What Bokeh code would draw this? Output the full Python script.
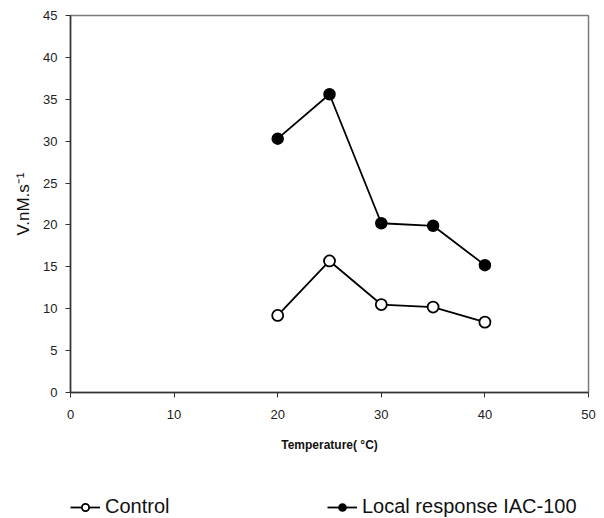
from bokeh.plotting import figure
from bokeh.layouts import column
from bokeh.models import Legend, LegendItem, Range1d, FixedTicker
from bokeh.embed import file_html
from bokeh.resources import INLINE

temperature = [20, 25, 30, 35, 40]
control = [9.2, 15.7, 10.5, 10.2, 8.4]
local_iac100 = [30.3, 35.6, 20.2, 19.9, 15.2]
x_ticks = [0, 10, 20, 30, 40, 50]
y_ticks = [0, 5, 10, 15, 20, 25, 30, 35, 40, 45]
series_labels = ["Control", "Local response IAC-100"]

FONT = "Liberation Sans"

p = figure(width=596, height=458, output_backend="svg", toolbar_location=None,
           x_range=Range1d(0, 50), y_range=Range1d(0, 45),
           min_border_left=70, min_border_right=8, min_border_top=15, min_border_bottom=66)
p.grid.visible = False
p.outline_line_color = "#7a7a7a"
p.outline_line_width = 1.5

for ax in (p.xaxis[0], p.yaxis[0]):
    ax.axis_line_color = "#333333"
    ax.axis_line_width = 1.5
    ax.major_tick_line_color = "#333333"
    ax.major_tick_line_width = 1
    ax.major_tick_out = 5
    ax.major_tick_in = 0
    ax.minor_tick_line_color = None
    ax.major_label_text_font = FONT
    ax.major_label_text_font_size = "13px"
    ax.major_label_text_color = "#222222"

p.xaxis.ticker = FixedTicker(ticks=x_ticks)
p.yaxis.ticker = FixedTicker(ticks=y_ticks)
p.xaxis.major_label_standoff = 12
p.yaxis.major_label_standoff = 8

p.xaxis.axis_label = "Temperature( \u00b0C)"
p.xaxis.axis_label_text_font = FONT
p.xaxis.axis_label_text_font_style = "bold"
p.xaxis.axis_label_text_font_size = "12px"
p.xaxis.axis_label_text_color = "#111111"
p.xaxis.axis_label_standoff = 16

p.yaxis.axis_label = "V.nM.s\u207b\u00b9"
p.yaxis.axis_label_text_font = FONT
p.yaxis.axis_label_text_font_style = "normal"
p.yaxis.axis_label_text_font_size = "17px"
p.yaxis.axis_label_text_color = "#111111"
p.yaxis.axis_label_standoff = 7

LINE_W = 1.8
p.line(temperature, control, line_color="black", line_width=LINE_W)
p.scatter(temperature, control, marker="circle", size=11,
          fill_color="white", line_color="black", line_width=LINE_W)
p.line(temperature, local_iac100, line_color="black", line_width=LINE_W)
p.scatter(temperature, local_iac100, marker="circle", size=11,
          fill_color="black", line_color="black", line_width=1.5)

# legend strip below the chart (its renderers are hidden; only the legend shows)
lg = figure(width=596, height=60, output_backend="svg", toolbar_location=None,
            x_axis_type=None, y_axis_type=None,
            min_border_left=0, min_border_right=0, min_border_top=0, min_border_bottom=0)
lg.grid.visible = False
lg.outline_line_color = None
k1 = lg.line(temperature, control, line_color="black", line_width=LINE_W, visible=False)
m1 = lg.scatter(temperature, control, marker="circle", size=11, fill_color="white",
                line_color="black", line_width=LINE_W, visible=False)
k2 = lg.line(temperature, local_iac100, line_color="black", line_width=LINE_W, visible=False)
m2 = lg.scatter(temperature, local_iac100, marker="circle", size=11, fill_color="black",
                line_color="black", line_width=1.5, visible=False)

legend = Legend(items=[LegendItem(label=series_labels[0], renderers=[k1, m1]),
                       LegendItem(label=series_labels[1], renderers=[k2, m2])],
                orientation="horizontal", location=(0, 0),
                glyph_width=30, glyph_height=18, label_height=18, label_width=200,
                label_standoff=5, spacing=22, padding=0, margin=0,
                border_line_color=None, background_fill_alpha=0,
                inactive_fill_alpha=0,
                label_text_font=FONT, label_text_font_size="20px",
                label_text_color="#111111")
lg.add_layout(legend, "center")

layout = column(p, lg, spacing=0)
open("out.html", "w").write(file_html(layout, INLINE))
